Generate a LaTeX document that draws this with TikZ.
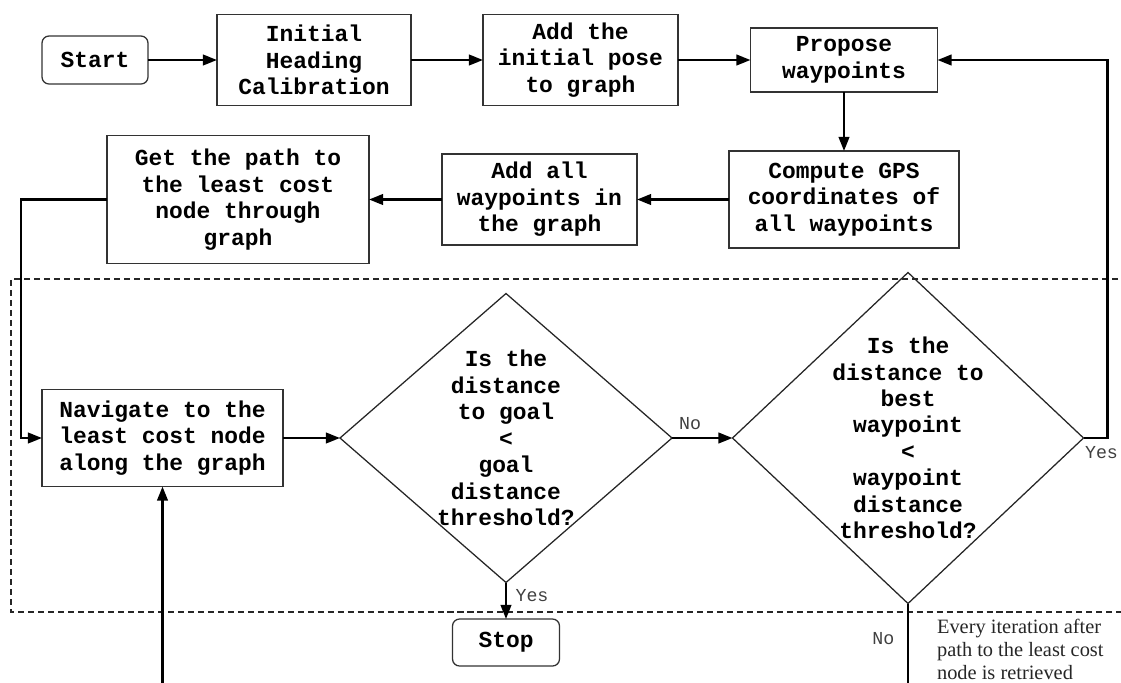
\documentclass[tikz,border=0pt]{standalone}
\usepackage{fontspec}
\setmonofont{Liberation Mono}
\newfontfamily\notefont{Liberation Serif}
\usetikzlibrary{shapes.geometric,arrows.meta}

\newcommand{\boxfont}{\ttfamily\bfseries\fontsize{16.3}{18.8}\selectfont}
\newcommand{\lblfont}{\ttfamily\fontsize{13}{15}\selectfont}

\tikzset{
  proc/.style={rectangle, draw=black!80, line width=0.9pt, align=center, font=\boxfont, inner sep=2pt, outer sep=0pt},
  term/.style={proc, rounded corners=5pt},
  decision/.style={diamond, draw=black!85, line width=0.9pt, align=center, font=\boxfont, inner sep=-1cm, outer sep=0pt, aspect=1},
}

\begin{document}
\begin{tikzpicture}[
  arr/.style={-{Triangle[length=10pt,width=7.5pt]}, line width=1.6pt},
  lbl/.style={font=\lblfont, text=black!75, inner sep=2pt},
  region/.style={dash pattern=on 4.3pt off 2.8pt, line width=0.9pt, black!85}
]
  \useasboundingbox (0,0) rectangle (28.025,-17.05);

  % dashed loop region (open to the right)
  \draw[region] (28.2,-6.975) -- (0.275,-6.975) -- (0.275,-15.3) -- (28.2,-15.3);

  % top row
  \node[term, minimum width=2.65cm, minimum height=1.2cm] (start) at (2.375,-1.5) {Start};
  \node[proc, minimum width=4.85cm, minimum height=2.275cm] (heading) at (7.85,-1.5)
        {Initial\\Heading\\Calibration};
  \node[proc, minimum width=4.875cm, minimum height=2.275cm] (initpose) at (14.5125,-1.5)
        {Add the\\initial pose\\to graph};
  \node[proc, minimum width=4.675cm, minimum height=1.6cm] (propose) at (21.1,-1.5)
        {Propose\\waypoints};

  % second row
  \node[proc, minimum width=5.75cm, minimum height=2.425cm] (gps) at (21.1,-4.9875)
        {Compute GPS\\coordinates of\\all waypoints};
  \node[proc, minimum width=4.875cm, minimum height=2.275cm] (addall) at (13.4875,-4.9875)
        {Add all\\waypoints in\\the graph};
  \node[proc, minimum width=6.55cm, minimum height=3.2cm] (getpath) at (5.95,-4.9875)
        {Get the path to\\the least cost\\node through\\graph};

  % loop
  \node[proc, minimum width=6.025cm, minimum height=2.425cm] (navigate) at (4.0625,-10.95)
        {Navigate to the\\least cost node\\along the graph};
  \node[decision, minimum width=8.3cm, minimum height=7.225cm] (goal) at (12.65,-10.95)
        {Is the\\distance\\to goal\\<\\goal\\distance\\threshold?};
  \node[decision, minimum width=8.775cm, minimum height=8.275cm] (wpchk) at (22.7,-10.95)
        {Is the\\distance to\\best\\waypoint\\<\\waypoint\\distance\\threshold?};
  \node[term, minimum width=2.675cm, minimum height=1.175cm] (stop) at (12.65,-16.0625) {Stop};

  \node[anchor=north west, align=left, inner sep=0pt, text=black!85,
        font=\notefont\fontsize{14.5}{16.4}\selectfont] (note) at (23.42,-15.47)
        {Every iteration after\\path to the least cost\\node is retrieved};

  \coordinate (loopin) at (4.0625,-17.3);
  \coordinate (wpout) at (22.7,-17.3);

  \draw[arr] (start) -- (heading);
  \draw[arr] (heading) -- (initpose);
  \draw[arr] (initpose) -- (propose);
  \draw[arr] (propose) -- (gps);
  \draw[arr] (gps) -- (addall);
  \draw[arr] (addall) -- (getpath);
  \draw[arr] (getpath.west) -- ++(-2.15,0) |- (navigate.west);
  \draw[arr] (navigate) -- (goal);
  \draw[arr] (goal.east) -- node[lbl, above=3pt, pos=0.3] {No} (wpchk.west);
  \draw[arr] (goal.south) -- node[lbl, right=4pt, pos=0.35] {Yes} (stop.north);
  \draw[arr] (wpchk.east) -- node[lbl, below=3pt, pos=0.75] {Yes} ++(0.6,0) |- (propose.east);
  \draw[line width=1.6pt] (wpchk.south) -- node[lbl, left=7pt, pos=0.4] {No} (wpout);
  \draw[arr] (loopin) -- (navigate.south);
\end{tikzpicture}
\end{document}
